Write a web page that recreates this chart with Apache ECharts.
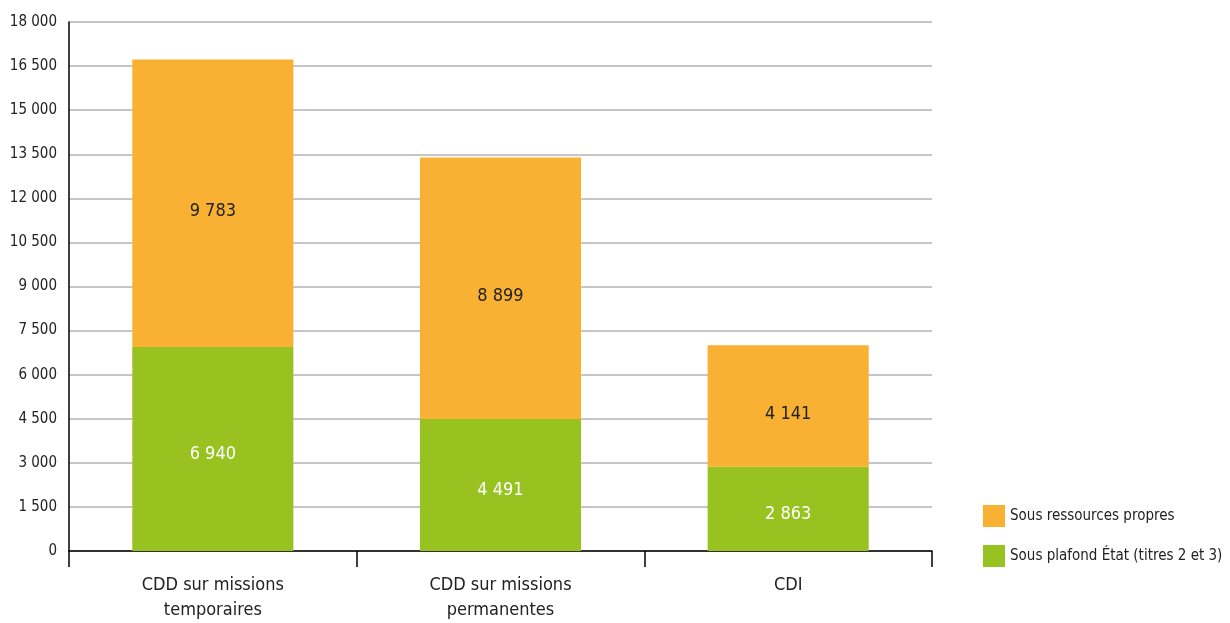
<!DOCTYPE html>
<html><head><meta charset="utf-8">
<script src="https://cdn.jsdelivr.net/npm/echarts@6/dist/echarts.min.js"></script>
<style>html,body{margin:0;padding:0;background:#fff}#c{width:1230px;height:623px}</style>
</head><body><div id="c"></div>
<script>
const categories = ['CDD sur missions\ntemporaires', 'CDD sur missions\npermanentes', 'CDI'];
const plafondEtat = [6940, 4491, 2863];
const ressourcesPropres = [9783, 8899, 4141];
const seriesNames = ['Sous plafond État (titres 2 et 3)', 'Sous ressources propres'];
const FONT = '"Liberation Sans Narrow", "DejaVu Sans Condensed", "Roboto", sans-serif';
const fmt = v => String(v).replace(/\B(?=(\d{3})+(?!\d))/g, ' ');

const chart = echarts.init(document.getElementById('c'));
chart.setOption({
  animation: false,
  textStyle: { fontFamily: FONT },
  grid: { left: 69, right: 298, top: 22, bottom: 67, containLabel: false },
  legend: {
    orient: 'vertical', left: 978, top: 500,
    data: [seriesNames[1], seriesNames[0]],
    itemWidth: 22, itemHeight: 22, itemGap: 18,
    icon: 'rect',
    textStyle: { fontFamily: FONT, fontSize: 15, color: '#222' }
  },
  xAxis: {
    type: 'category', data: categories,
    axisLine: { lineStyle: { color: '#000', width: 1.5 } },
    axisTick: { show: true, length: 16, lineStyle: { color: '#000', width: 1.5 } },
    axisLabel: { fontFamily: FONT, fontSize: 18, color: '#222', margin: 22, lineHeight: 25, interval: 0 }
  },
  yAxis: {
    type: 'value', min: 0, max: 18000, interval: 1500,
    axisLine: { show: true, lineStyle: { color: '#000', width: 1.5 } },
    axisTick: { show: false },
    splitLine: { lineStyle: { color: '#b3b3b3', width: 1.5 } },
    axisLabel: { fontFamily: FONT, fontSize: 15, color: '#222', margin: 12, formatter: v => fmt(v) }
  },
  series: [
    {
      name: seriesNames[0], type: 'bar', stack: 'a', data: plafondEtat, barWidth: '56%',
      itemStyle: { color: '#97c21f' },
      label: { show: true, position: 'inside', offset: [0, 5], color: '#fff', fontSize: 18, fontFamily: FONT, formatter: p => fmt(p.value) }
    },
    {
      name: seriesNames[1], type: 'bar', stack: 'a', data: ressourcesPropres, barWidth: '56%',
      itemStyle: { color: '#f8b133' },
      label: { show: true, position: 'inside', offset: [0, 8], color: '#222', fontSize: 18, fontFamily: FONT, formatter: p => fmt(p.value) }
    }
  ]
});
</script></body></html>
